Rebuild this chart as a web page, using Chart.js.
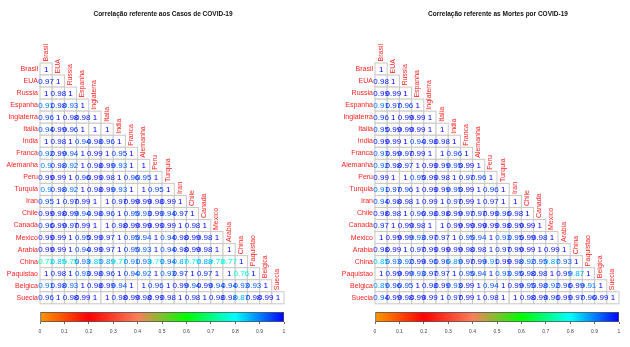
<!DOCTYPE html>
<html>
<head>
<meta charset="utf-8">
<script src="https://cdn.jsdelivr.net/npm/chart.js@4.4.0/dist/chart.umd.min.js"></script>
<style>
  body { margin: 0; background: #fff; }
  #wrap { position: relative; width: 630px; height: 347px; overflow: hidden; }
  canvas { position: absolute; }
</style>
</head>
<body>
<div id="wrap">
  <canvas id="casos" width="295" height="310" style="left:0;top:0"></canvas>
  <canvas id="mortes" width="295" height="310" style="left:335px;top:0"></canvas>
  <canvas id="barCasos" width="295" height="47" style="left:0;top:300px"></canvas>
  <canvas id="barMortes" width="295" height="47" style="left:335px;top:300px"></canvas>
</div>
<script>
/* ======================================
        DATA
========================================*/
const countries = ['Brasil', 'EUA', 'Russia', 'Espanha', 'Inglaterra', 'Italia', 'India', 'Franca',
  'Alemanha', 'Peru', 'Turquia', 'Iran', 'Chile', 'Canada', 'Mexico', 'Arabia', 'China',
  'Paquistao', 'Belgica', 'Suecia'];

// lower triangle, row by row (diagonal included)
const casosRows = [
  [1],
  [0.97, 1],
  [1, 0.98, 1],
  [0.91, 0.98, 0.93, 1],
  [0.96, 1, 0.98, 0.98, 1],
  [0.94, 0.99, 0.96, 1, 1, 1],
  [1, 0.98, 1, 0.94, 0.98, 0.96, 1],
  [0.92, 0.99, 0.94, 1, 0.99, 1, 0.95, 1],
  [0.9, 0.98, 0.92, 1, 0.98, 0.99, 0.93, 1, 1],
  [0.99, 0.99, 1, 0.96, 0.99, 0.98, 1, 0.96, 0.95, 1],
  [0.9, 0.98, 0.92, 1, 0.98, 0.99, 0.93, 1, 1, 0.95, 1],
  [0.95, 1, 0.97, 0.99, 1, 1, 0.97, 0.99, 0.99, 0.98, 0.99, 1],
  [0.99, 0.98, 0.99, 0.94, 0.98, 0.96, 1, 0.95, 0.93, 0.99, 0.94, 0.97, 1],
  [0.96, 0.99, 0.97, 0.99, 1, 1, 0.98, 0.99, 0.99, 0.99, 0.99, 1, 0.98, 1],
  [0.99, 0.99, 1, 0.95, 0.99, 0.97, 1, 0.95, 0.94, 1, 0.94, 0.98, 0.99, 0.98, 1],
  [0.99, 0.99, 1, 0.94, 0.99, 0.97, 1, 0.95, 0.93, 1, 0.94, 0.98, 0.99, 0.98, 1, 1],
  [0.73, 0.85, 0.75, 0.93, 0.85, 0.89, 0.77, 0.91, 0.93, 0.79, 0.94, 0.87, 0.79, 0.88, 0.78, 0.77, 1],
  [1, 0.98, 1, 0.93, 0.98, 0.96, 1, 0.94, 0.92, 1, 0.93, 0.97, 1, 0.97, 1, 1, 0.76, 1],
  [0.91, 0.98, 0.93, 1, 0.98, 0.99, 0.94, 1, 1, 0.96, 1, 0.99, 0.94, 0.99, 0.94, 0.94, 0.93, 0.93, 1],
  [0.96, 1, 0.98, 0.99, 1, 1, 0.98, 0.99, 0.98, 0.99, 0.98, 1, 0.98, 1, 0.98, 0.98, 0.87, 0.98, 0.99, 1]
];

const mortesRows = [
  [1],
  [0.98, 1],
  [0.99, 0.99, 1],
  [0.91, 0.97, 0.96, 1],
  [0.96, 1, 0.99, 0.99, 1],
  [0.95, 0.99, 0.99, 0.99, 1, 1],
  [0.99, 0.99, 1, 0.94, 0.98, 0.98, 1],
  [0.93, 0.99, 0.97, 0.99, 1, 1, 0.96, 1],
  [0.92, 0.98, 0.97, 1, 0.99, 0.99, 0.95, 0.99, 1],
  [0.99, 1, 1, 0.95, 0.99, 0.98, 1, 0.97, 0.96, 1],
  [0.91, 0.97, 0.96, 1, 0.99, 0.99, 0.95, 0.99, 1, 0.96, 1],
  [0.94, 0.98, 0.98, 1, 0.99, 1, 0.97, 0.99, 1, 0.97, 1, 1],
  [0.98, 0.98, 1, 0.96, 0.98, 0.98, 0.99, 0.97, 0.97, 0.99, 0.96, 0.98, 1],
  [0.97, 1, 0.99, 0.98, 1, 1, 0.99, 0.99, 0.99, 0.99, 0.98, 0.99, 0.99, 1],
  [1, 0.99, 0.99, 0.93, 0.97, 0.97, 1, 0.95, 0.94, 1, 0.93, 0.95, 0.99, 0.98, 1],
  [0.98, 0.99, 1, 0.97, 0.99, 0.99, 0.99, 0.98, 0.98, 1, 0.97, 0.99, 0.99, 1, 0.99, 1],
  [0.85, 0.93, 0.92, 0.99, 0.96, 0.96, 0.89, 0.97, 0.99, 0.91, 0.99, 0.98, 0.92, 0.95, 0.87, 0.93, 1],
  [1, 0.99, 0.99, 0.93, 0.97, 0.97, 1, 0.95, 0.94, 1, 0.93, 0.95, 0.98, 0.98, 1, 0.99, 0.87, 1],
  [0.89, 0.96, 0.95, 1, 0.98, 0.99, 0.93, 0.99, 1, 0.94, 1, 0.99, 0.95, 0.98, 0.92, 0.96, 0.99, 0.91, 1],
  [0.94, 0.99, 0.98, 0.99, 0.99, 1, 0.97, 0.99, 1, 0.98, 1, 1, 0.98, 0.99, 0.96, 0.99, 0.97, 0.96, 0.99, 1]
];

const barTicks = [0, 0.1, 0.2, 0.3, 0.4, 0.5, 0.6, 0.7, 0.8, 0.9, 1];

// colour ramp used for numbers and colour bar
const rampStops = [
  [0, [255, 153, 0]],
  [0.2, [255, 0, 0]],
  [0.4, [250, 128, 90]],
  [0.6, [0, 255, 0]],
  [0.8, [0, 255, 255]],
  [1, [0, 0, 255]]
];

const FONT = "'Liberation Sans', Arial, Helvetica, sans-serif";

function rampColor(v) {
  for (let k = 1; k < rampStops.length; k++) {
    const [v1, c1] = rampStops[k];
    const [v0, c0] = rampStops[k - 1];
    if (v <= v1) {
      const t = (v - v0) / (v1 - v0);
      const c = c0.map((a, n) => Math.round(a + (c1[n] - a) * t));
      return `rgb(${c[0]},${c[1]},${c[2]})`;
    }
  }
  return 'rgb(0,0,255)';
}

/* ======================================
        CELLS + LABELS PLUGIN
========================================*/
const cellPlugin = title => ({
  id: 'cells',
  afterDatasetsDraw(chart) {
    const { ctx, scales: { x, y }, chartArea } = chart;
    const w = Math.abs(x.getPixelForValue(1) - x.getPixelForValue(0));
    const h = Math.abs(y.getPixelForValue(1) - y.getPixelForValue(0));
    const pts = chart.getDatasetMeta(0).data;
    const raw = chart.data.datasets[0].data;
    ctx.save();
    // cells
    ctx.lineWidth = 1;
    ctx.strokeStyle = '#c8c8c8';
    ctx.fillStyle = '#fff';
    pts.forEach(el => {
      ctx.fillRect(el.x - w / 2, el.y - h / 2, w, h);
      ctx.strokeRect(el.x - w / 2, el.y - h / 2, w, h);
    });
    // numbers
    ctx.font = `8px ${FONT}`;
    ctx.textAlign = 'center';
    ctx.textBaseline = 'middle';
    pts.forEach((el, k) => {
      ctx.fillStyle = rampColor(raw[k].v);
      ctx.fillText(String(raw[k].v), el.x, el.y + 0.5);
    });
    // column labels (rotated)
    ctx.font = `7px ${FONT}`;
    ctx.fillStyle = '#ff2020';
    ctx.textAlign = 'left';
    ctx.textBaseline = 'alphabetic';
    countries.forEach((name, j) => {
      const cx = x.getPixelForValue(j);
      const top = y.getPixelForValue(j) - h / 2;
      ctx.save();
      ctx.translate(cx + 1.5, top - 1.5);
      ctx.rotate(-Math.PI / 2);
      ctx.fillText(name, 0, 0);
      ctx.restore();
    });
    // title
    ctx.font = `bold 6.5px ${FONT}`;
    ctx.fillStyle = '#111';
    ctx.textAlign = 'center';
    ctx.textBaseline = 'middle';
    ctx.fillText(title, (chartArea.left + chartArea.right) / 2 + 1, 14);
    ctx.restore();
  }
});

function matrixChart(id, title, rows) {
  const points = [];
  rows.forEach((row, i) => row.forEach((v, j) => points.push({ x: j, y: i, v: v })));
  return new Chart(document.getElementById(id), {
    type: 'scatter',
    data: { datasets: [{ data: points, pointRadius: 0, pointHoverRadius: 0 }] },
    options: {
      responsive: false,
      animation: false,
      events: [],
      layout: { padding: { top: 63, right: 11, bottom: 3, left: 0 } },
      plugins: { legend: { display: false }, tooltip: { enabled: false } },
      scales: {
        x: { display: false, min: -0.5, max: 19.5 },
        y: {
          reverse: true, min: -0.5, max: 19.5,
          afterBuildTicks: s => { s.ticks = countries.map((_, i) => ({ value: i })); },
          afterFit: s => { s.width = 40; },
          ticks: {
            autoSkip: false, padding: 2, color: '#ff2020',
            font: { family: FONT, size: 7 },
            callback: v => countries[v]
          },
          grid: { display: false, drawTicks: false },
          border: { display: false }
        }
      }
    },
    plugins: [cellPlugin(title)]
  });
}

/* ======================================
        COLOUR BAR
========================================*/
function colorBar(id) {
  return new Chart(document.getElementById(id), {
    type: 'bar',
    data: {
      labels: ['r'],
      datasets: [{
        data: [[0, 1]],
        backgroundColor: c => {
          const chart = c.chart;
          if (!chart.chartArea) return '#fff';
          const xs = chart.scales.x;
          const g = chart.ctx.createLinearGradient(xs.getPixelForValue(0), 0, xs.getPixelForValue(1), 0);
          rampStops.forEach(([v, col]) => g.addColorStop(v, `rgb(${col.join(',')})`));
          return g;
        },
        borderColor: '#555',
        borderWidth: 1,
        borderSkipped: false,
        barPercentage: 1,
        categoryPercentage: 1
      }]
    },
    options: {
      indexAxis: 'y',
      responsive: false,
      animation: false,
      events: [],
      layout: { padding: { top: 12, right: 11, bottom: 0, left: 40 } },
      plugins: { legend: { display: false }, tooltip: { enabled: false } },
      scales: {
        y: { display: false },
        x: {
          type: 'linear', min: 0, max: 1,
          afterBuildTicks: s => { s.ticks = barTicks.map(v => ({ value: v })); },
          afterFit: s => { s.height = 25; },
          ticks: {
            autoSkip: false, maxRotation: 0, padding: 5, color: '#444',
            font: { family: FONT, size: 5 },
            callback: v => String(v)
          },
          grid: { drawOnChartArea: false, drawTicks: true, tickLength: 2, color: '#666' },
          border: { display: false }
        }
      }
    }
  });
}

matrixChart('casos', 'Correlação referente aos Casos de COVID-19', casosRows);
matrixChart('mortes', 'Correlação referente as Mortes por COVID-19', mortesRows);
colorBar('barCasos');
colorBar('barMortes');
</script>
</body>
</html>
